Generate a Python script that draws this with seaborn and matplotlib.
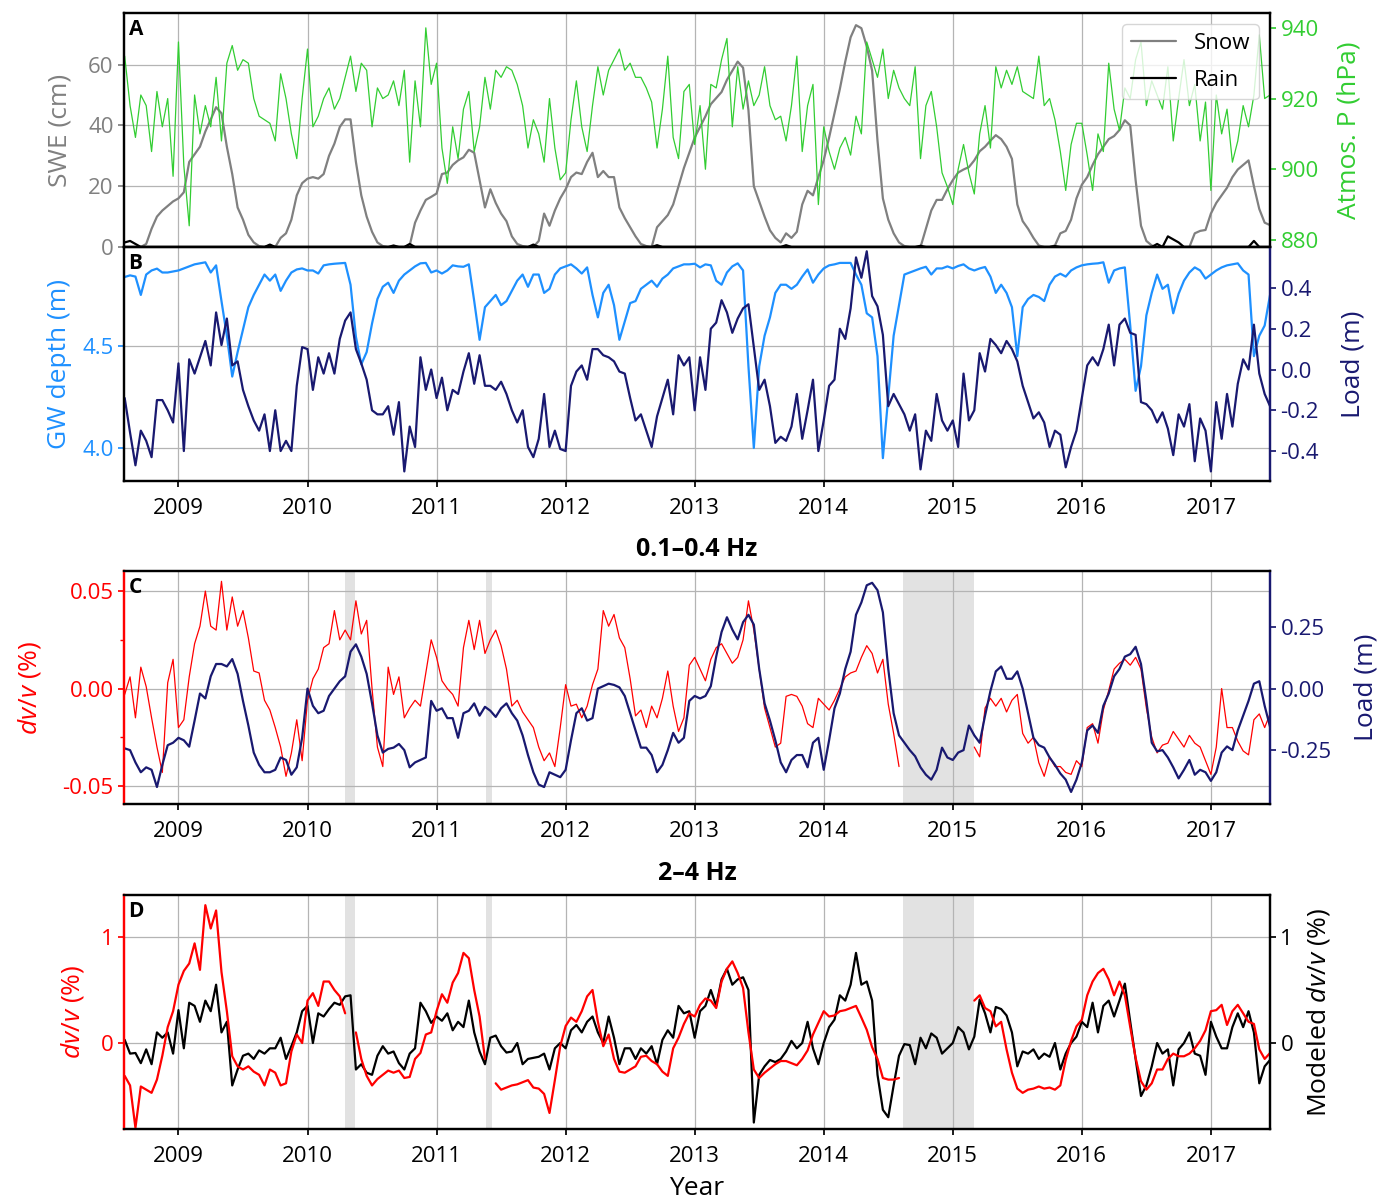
import numpy as np
import pandas as pd
import matplotlib
matplotlib.use("Agg")
import matplotlib.pyplot as plt
from matplotlib.lines import Line2D
from matplotlib.ticker import MultipleLocator, FormatStrFormatter
import seaborn as sns

nan = np.nan

# --- data: semi-monthly samples, 1 Aug 2008 .. mid-June 2017 ---
t = 2008 + 7 / 12 + np.arange(214) / 24

swe = [0, 0, 0, 0, 1, 6, 10, 12, 13.5, 15,
       16, 18, 28, 30.5, 33, 38, 42, 46, 44, 33, 24, 13, 9, 4, 1.5, 0.3, 0, 0.5, 0, 3, 4.5, 9, 17, 21,
       22.5, 23, 22.5, 24, 30, 34, 39.5, 42, 42, 28, 17, 10, 5, 1.5, 0.3, 0, 0, 0, 0, 0.5, 8, 12, 15.5, 16.5,
       17.6, 24, 24.5, 27, 28.5, 29.5, 32, 31, 22, 13, 19, 14.5, 11, 8.5, 3.5, 1, 0.3, 0, 0, 2, 11, 7, 12, 16,
       19, 23, 24.5, 24, 28, 31, 23, 25, 23, 23, 13, 9.5, 6.5, 3.5, 1, 0.3, 0, 6.5, 8.5, 10.5, 14, 20, 26, 31,
       36, 39.5, 43, 47, 49, 51, 55, 58, 61, 59, 45, 20, 15, 10, 5.5, 3, 1.5, 4.5, 3, 5, 14, 18.5, 17, 23,
       28.6, 36, 44, 52, 61, 69, 73, 72, 66, 58, 35, 16, 9, 4.5, 1.5, 0.3, 0, 0, 0, 6, 12, 15.5, 15.5, 19,
       22, 24.5, 25.5, 26.3, 28.5, 31.5, 33, 35, 36.8, 35.5, 33, 29, 14, 8.5, 6, 3, 0.5, 0, 0, 0.5, 4.5, 5.3, 9, 16,
       20.5, 23, 27, 30.5, 33, 35.5, 36.5, 38.5, 41.7, 40, 22, 7, 2, 0.5, 0, 0, 0, 0, 0, 0, 0, 4.5, 5.3, 5.6,
       11, 14.5, 17, 19.5, 23, 25.5, 27, 28.5, 20, 12.5, 8, 7.2]

rain = [1.5, 2, 1, 0, 0, 0, 0, 0, 0, 0,
        0, 0, 0, 0, 0, 0, 0, 0, 0, 0, 0, 0, 0, 0, 0, 0, 0, 0.8, 0, 0, 0, 0, 0, 0,
        0, 0, 0, 0, 0, 0, 0, 0, 0, 0, 0, 0, 0, 0, 0, 0, 0.5, 0, 0, 1.0, 0, 0, 0, 0,
        0, 0, 0, 0, 0, 0, 0, 0, 0, 0, 0, 0, 0, 0, 0, 0, 0, 0, 0.8, 0, 0, 0, 0, 0,
        0, 0, 0, 0, 0, 0, 0, 0, 0, 0, 0, 0, 0, 0, 0, 0, 0, 0.6, 0, 0, 0, 0, 0, 0,
        0, 0, 0, 0, 0, 0, 0, 0, 0, 0, 0, 0, 0, 0, 0, 0, 0, 0.6, 0, 0, 0, 0, 0, 0,
        0, 0, 0, 0, 0, 0, 0, 0, 0, 0, 0, 0, 0, 0, 0, 0, 0, 0, 0.4, 0, 0, 0, 0, 0,
        0, 0, 0, 0, 0, 0, 0, 0, 0, 0, 0, 0, 0, 0, 0, 0, 0, 0, 0, 0.3, 0, 0, 0, 0,
        0, 0, 0, 0, 0, 0, 0, 0, 0, 0, 0, 0, 0, 0, 1.0, 0, 3.5, 2.5, 1.5, 0, 0, 0, 0, 0,
        0, 0, 0, 0, 0, 0, 0, 0, 2.0, 0, 0, 0]

patm = [932, 918, 909, 921, 918, 905, 922, 912, 920, 898,
        936, 901, 884, 921, 910, 918, 912, 926, 908, 930, 935, 928, 931, 930, 920, 915, 914, 913, 908, 927, 920, 910, 903, 920,
        934, 912, 915, 920, 923, 917, 920, 926, 932, 922, 930, 928, 912, 923, 920, 921, 925, 918, 928, 902, 925, 912, 940, 924,
        930, 906, 896, 912, 903, 917, 922, 905, 912, 926, 917, 928, 926, 929, 928, 924, 918, 906, 914, 910, 902, 920, 906, 897,
        899, 914, 925, 912, 905, 918, 929, 921, 928, 931, 934, 928, 930, 926, 926, 923, 919, 906, 917, 932, 909, 903, 922, 924,
        907, 918, 900, 924, 923, 931, 937, 912, 929, 917, 925, 918, 921, 929, 918, 914, 915, 908, 918, 932, 905, 918, 924, 890,
        912, 905, 900, 906, 909, 904, 915, 910, 936, 931, 926, 934, 920, 928, 923, 920, 918, 929, 903, 918, 922, 912, 899, 895,
        890, 900, 907, 899, 893, 910, 918, 906, 929, 923, 928, 924, 929, 922, 921, 920, 932, 918, 920, 914, 905, 894, 907, 913,
        913, 904, 894, 910, 905, 930, 917, 911, 923, 920, 931, 936, 918, 925, 921, 917, 929, 908, 920, 931, 918, 924, 908, 919,
        894, 921, 910, 917, 902, 908, 918, 912, 921, 938, 920, 921]

gw_depth = [4.838, 4.846, 4.84, 4.75, 4.85, 4.87, 4.879, 4.86, 4.86, 4.865,
            4.87, 4.88, 4.89, 4.90, 4.905, 4.91, 4.86, 4.895, 4.72, 4.55, 4.35, 4.47, 4.58, 4.69, 4.75, 4.80, 4.85, 4.82, 4.85, 4.77, 4.82, 4.86, 4.875, 4.88,
            4.87, 4.87, 4.855, 4.895, 4.90, 4.903, 4.905, 4.907, 4.80, 4.545, 4.41, 4.47, 4.61, 4.73, 4.79, 4.81, 4.76, 4.82, 4.85, 4.87, 4.89, 4.905, 4.907, 4.86,
            4.87, 4.855, 4.87, 4.895, 4.89, 4.888, 4.90, 4.72, 4.53, 4.69, 4.72, 4.75, 4.70, 4.72, 4.77, 4.82, 4.85, 4.79, 4.85, 4.85, 4.76, 4.78, 4.85, 4.88,
            4.89, 4.90, 4.88, 4.855, 4.885, 4.75, 4.64, 4.76, 4.80, 4.70, 4.53, 4.62, 4.71, 4.72, 4.78, 4.80, 4.82, 4.79, 4.83, 4.85, 4.88, 4.89, 4.90, 4.90,
            4.903, 4.885, 4.90, 4.895, 4.82, 4.80, 4.86, 4.89, 4.905, 4.87, 4.40, 4.00, 4.40, 4.55, 4.64, 4.76, 4.80, 4.80, 4.78, 4.80, 4.84, 4.875, 4.81, 4.85,
            4.88, 4.895, 4.90, 4.907, 4.907, 4.907, 4.85, 4.80, 4.66, 4.64, 4.45, 3.95, 4.25, 4.55, 4.70, 4.85, 4.86, 4.87, 4.88, 4.888, 4.85, 4.88, 4.88, 4.89,
            4.88, 4.892, 4.90, 4.88, 4.87, 4.88, 4.887, 4.84, 4.76, 4.80, 4.76, 4.69, 4.45, 4.69, 4.73, 4.75, 4.74, 4.72, 4.80, 4.84, 4.854, 4.84, 4.87, 4.885,
            4.895, 4.90, 4.903, 4.905, 4.91, 4.81, 4.87, 4.88, 4.885, 4.60, 4.28, 4.40, 4.65, 4.76, 4.85, 4.78, 4.80, 4.66, 4.756, 4.82, 4.86, 4.885, 4.87, 4.83,
            4.85, 4.87, 4.885, 4.895, 4.90, 4.905, 4.87, 4.85, 4.45, 4.55, 4.60, 4.75]

load_b = [-0.14, -0.31, -0.47, -0.30, -0.35, -0.43, -0.15, -0.15, -0.20, -0.26,
          0.03, -0.40, 0.05, -0.02, 0.06, 0.14, 0.02, 0.28, 0.12, 0.25, 0.02, 0.04, -0.10, -0.18, -0.25, -0.30, -0.22, -0.40, -0.20, -0.40, -0.35, -0.40, -0.08, 0.11,
          0.10, -0.10, 0.06, -0.02, 0.08, -0.02, 0.15, 0.24, 0.28, 0.10, 0.03, -0.05, -0.20, -0.22, -0.22, -0.18, -0.32, -0.16, -0.50, -0.28, -0.38, 0.06, -0.10, 0.00,
          -0.14, -0.04, -0.20, -0.10, -0.12, -0.01, 0.08, -0.07, 0.07, -0.08, -0.08, -0.10, -0.06, -0.12, -0.20, -0.26, -0.20, -0.38, -0.43, -0.34, -0.12, -0.38, -0.30, -0.39,
          -0.40, -0.08, -0.01, 0.02, -0.05, 0.10, 0.10, 0.07, 0.06, 0.04, -0.01, -0.02, -0.14, -0.25, -0.22, -0.30, -0.38, -0.23, -0.14, -0.05, -0.22, 0.07, 0.02, 0.06,
          -0.20, 0.06, -0.10, 0.20, 0.23, 0.34, 0.28, 0.18, 0.25, 0.30, 0.32, 0.11, -0.10, -0.05, -0.18, -0.36, -0.33, -0.35, -0.28, -0.12, -0.34, -0.20, -0.05, -0.40,
          -0.25, -0.08, -0.05, 0.20, 0.15, 0.30, 0.55, 0.45, 0.58, 0.36, 0.31, 0.17, -0.18, -0.12, -0.17, -0.22, -0.30, -0.22, -0.49, -0.30, -0.35, -0.12, -0.25, -0.30,
          -0.25, -0.38, -0.02, -0.25, -0.20, 0.08, -0.01, 0.15, 0.12, 0.08, 0.14, 0.10, 0.04, -0.08, -0.16, -0.24, -0.21, -0.26, -0.38, -0.30, -0.32, -0.48, -0.38, -0.30,
          -0.14, 0.02, 0.06, 0.02, 0.10, 0.22, 0.02, 0.22, 0.25, 0.18, 0.17, -0.16, -0.17, -0.20, -0.26, -0.21, -0.29, -0.42, -0.22, -0.28, -0.17, -0.45, -0.24, -0.30,
          -0.50, -0.16, -0.34, -0.12, -0.28, -0.07, 0.05, 0.00, 0.22, -0.02, -0.12, -0.18]

dvv_low = [-0.003, 0.006, -0.015, 0.011, 0.001, -0.015, -0.030, -0.043, 0.003, 0.015,
           -0.020, -0.016, 0.006, 0.023, 0.032, 0.050, 0.032, 0.030, 0.055, 0.030, 0.047, 0.032, 0.040, 0.026, 0.009, 0.008, -0.006, -0.011, -0.020, -0.030, -0.045, -0.033, -0.016, -0.037,
           -0.006, 0.005, 0.010, 0.021, 0.023, 0.040, 0.025, 0.030, 0.025, 0.045, 0.028, 0.035, 0.000, -0.030, -0.040, 0.011, -0.003, 0.006, -0.015, -0.010, -0.006, -0.009, 0.008, 0.025,
           0.016, 0.004, 0.000, -0.003, -0.009, 0.021, 0.035, 0.020, 0.035, 0.018, 0.025, 0.030, 0.022, 0.010, -0.009, -0.006, -0.012, -0.016, -0.020, -0.030, -0.037, -0.033, -0.040, -0.020,
           0.002, -0.009, -0.008, -0.015, -0.009, 0.002, 0.010, 0.040, 0.032, 0.038, 0.026, 0.021, 0.005, -0.014, -0.011, -0.020, -0.009, -0.015, -0.005, 0.009, -0.009, -0.022, -0.015, 0.012,
           0.016, 0.010, 0.004, 0.015, 0.021, 0.023, 0.018, 0.013, 0.016, 0.025, 0.045, 0.030, 0.010, -0.010, -0.020, -0.030, -0.028, -0.004, -0.003, -0.004, -0.009, -0.018, -0.020, -0.005,
           -0.008, -0.011, -0.006, 0.000, 0.006, 0.008, 0.009, 0.016, 0.022, 0.018, 0.008, 0.015, -0.008, -0.023, -0.040, nan, nan, nan, nan, nan, nan, nan, nan, nan,
           nan, nan, nan, nan, -0.030, -0.035, -0.010, -0.005, -0.009, -0.005, -0.012, -0.006, -0.003, -0.023, -0.028, -0.025, -0.038, -0.045, -0.035, -0.040, -0.040, -0.043, -0.044, -0.037,
           -0.040, -0.020, -0.018, -0.028, -0.011, -0.001, 0.010, 0.013, 0.015, 0.012, 0.016, 0.010, -0.010, -0.025, -0.033, -0.029, -0.028, -0.022, -0.026, -0.030, -0.024, -0.028, -0.030, -0.037,
           -0.044, -0.030, 0.000, -0.020, -0.020, -0.027, -0.032, -0.034, -0.016, -0.013, -0.020, -0.013]

load_c = [-0.243, -0.25, -0.30, -0.34, -0.32, -0.33, -0.40, -0.31, -0.23, -0.22,
          -0.20, -0.21, -0.236, -0.13, -0.02, -0.04, 0.05, 0.10, 0.10, 0.09, 0.12, 0.06, -0.05, -0.15, -0.26, -0.31, -0.34, -0.34, -0.33, -0.28, -0.29, -0.35, -0.32, -0.20,
          0.00, -0.07, -0.10, -0.09, -0.03, 0.00, 0.03, 0.05, 0.15, 0.18, 0.13, 0.06, -0.06, -0.19, -0.26, -0.245, -0.24, -0.225, -0.25, -0.32, -0.30, -0.29, -0.28, -0.05,
          -0.09, -0.08, -0.12, -0.12, -0.20, -0.10, -0.09, -0.06, -0.11, -0.074, -0.09, -0.115, -0.08, -0.06, -0.10, -0.13, -0.19, -0.27, -0.34, -0.39, -0.40, -0.34, -0.35, -0.36,
          -0.33, -0.21, -0.10, -0.08, -0.13, -0.12, 0.00, 0.01, 0.02, 0.015, 0.005, -0.03, -0.10, -0.17, -0.24, -0.24, -0.27, -0.34, -0.31, -0.25, -0.18, -0.22, -0.20, -0.05,
          -0.03, -0.04, -0.03, 0.01, 0.13, 0.23, 0.29, 0.24, 0.20, 0.27, 0.30, 0.26, 0.08, -0.06, -0.13, -0.21, -0.30, -0.34, -0.29, -0.27, -0.27, -0.32, -0.22, -0.20,
          -0.33, -0.21, -0.08, -0.02, 0.08, 0.15, 0.30, 0.35, 0.42, 0.43, 0.40, 0.31, 0.08, -0.10, -0.19, -0.22, -0.25, -0.275, -0.32, -0.35, -0.37, -0.33, -0.24, -0.28,
          -0.29, -0.26, -0.25, -0.15, -0.19, -0.22, -0.11, -0.01, 0.07, 0.09, 0.04, 0.04, 0.07, 0.00, -0.10, -0.20, -0.23, -0.24, -0.28, -0.31, -0.345, -0.37, -0.42, -0.37,
          -0.30, -0.17, -0.15, -0.18, -0.07, -0.02, 0.05, 0.08, 0.13, 0.14, 0.17, 0.10, -0.05, -0.22, -0.255, -0.25, -0.28, -0.32, -0.365, -0.33, -0.29, -0.35, -0.33, -0.34,
          -0.375, -0.34, -0.26, -0.235, -0.25, -0.17, -0.11, -0.05, 0.02, 0.03, -0.07, -0.155]

dvv_high = [-0.31, -0.40, -0.80, -0.41, -0.44, -0.47, -0.345, -0.12, 0.15, 0.30,
            0.55, 0.68, 0.75, 0.94, 0.69, 1.30, 1.08, 1.25, 0.67, 0.30, -0.125, -0.22, -0.25, -0.22, -0.27, -0.30, -0.40, -0.25, -0.28, -0.40, -0.38, -0.08, 0.08, 0.00,
            0.40, 0.47, 0.35, 0.58, 0.58, 0.50, 0.44, 0.28, nan, 0.10, -0.15, -0.31, -0.40, -0.34, -0.30, -0.26, -0.28, -0.26, -0.33, -0.32, -0.15, -0.094, 0.08, 0.10,
            0.30, 0.46, 0.38, 0.57, 0.66, 0.85, 0.80, 0.50, 0.25, -0.15, nan, -0.38, -0.44, -0.42, -0.40, -0.39, -0.37, -0.35, -0.42, -0.43, -0.48, -0.66, -0.35, -0.03,
            0.16, 0.24, 0.20, 0.30, 0.44, 0.50, 0.20, -0.03, 0.08, -0.15, -0.27, -0.28, -0.25, -0.22, -0.13, -0.12, -0.17, -0.20, -0.27, -0.31, -0.05, 0.05, 0.18, 0.28,
            0.25, 0.36, 0.42, 0.40, 0.33, 0.58, 0.70, 0.77, 0.66, 0.52, 0.10, -0.25, -0.33, -0.28, -0.24, -0.20, -0.17, -0.17, -0.19, -0.21, -0.15, -0.07, 0.08, 0.19,
            0.30, 0.25, 0.26, 0.30, 0.31, 0.33, 0.35, 0.24, 0.125, -0.04, -0.15, -0.33, -0.345, -0.345, -0.33, nan, nan, nan, nan, nan, nan, nan, nan, nan,
            nan, nan, nan, nan, 0.40, 0.45, 0.33, 0.30, 0.157, 0.20, -0.06, -0.28, -0.43, -0.47, -0.44, -0.43, -0.41, -0.43, -0.42, -0.44, -0.40, -0.16, 0.02, 0.157,
            0.22, 0.45, 0.58, 0.66, 0.70, 0.60, 0.45, 0.58, 0.45, 0.15, -0.14, -0.36, -0.44, -0.38, -0.25, -0.25, -0.15, -0.10, -0.125, -0.125, -0.10, -0.05, 0.02, 0.12,
            0.30, 0.31, 0.36, 0.17, 0.30, 0.36, 0.28, 0.20, 0.18, -0.06, -0.15, -0.094]

dvv_model = [0.03, -0.10, -0.094, -0.19, -0.06, -0.20, 0.10, 0.05, 0.10, -0.10,
             0.31, -0.05, 0.38, 0.35, 0.20, 0.40, 0.30, 0.55, 0.10, 0.20, -0.40, -0.25, -0.12, -0.10, -0.15, -0.07, -0.10, -0.05, -0.05, 0.05, -0.15, -0.03, 0.10, 0.30,
             0.35, 0.00, 0.28, 0.25, 0.32, 0.38, 0.36, 0.44, 0.45, -0.25, -0.20, -0.28, -0.30, -0.12, -0.03, -0.10, -0.08, -0.19, -0.25, -0.10, -0.05, 0.38, 0.30, 0.19,
             0.25, 0.21, 0.28, 0.12, 0.20, 0.15, 0.40, 0.10, -0.08, -0.20, 0.05, 0.07, -0.03, -0.09, -0.08, 0.00, -0.20, -0.15, -0.14, -0.13, -0.10, -0.25, -0.05, 0.00,
             -0.05, 0.12, 0.17, 0.10, 0.20, 0.25, 0.10, 0.00, 0.25, 0.05, -0.20, -0.05, -0.05, -0.15, -0.05, -0.10, -0.03, -0.20, 0.03, 0.12, 0.05, 0.35, 0.28, 0.30,
             0.05, 0.30, 0.35, 0.50, 0.35, 0.60, 0.70, 0.55, 0.60, 0.62, 0.50, -0.75, -0.30, -0.22, -0.16, -0.18, -0.15, -0.08, 0.02, -0.05, 0.00, 0.20, -0.05, -0.20,
             0.00, 0.15, 0.22, 0.45, 0.40, 0.55, 0.85, 0.55, 0.58, 0.40, -0.30, -0.63, -0.70, -0.40, -0.12, -0.01, -0.02, -0.20, 0.05, -0.05, 0.09, 0.05, -0.10, -0.05,
             0.00, 0.15, 0.10, -0.06, 0.06, 0.41, 0.28, 0.10, 0.34, 0.32, 0.26, 0.10, -0.22, -0.08, -0.10, -0.06, -0.15, -0.10, -0.13, 0.00, -0.25, -0.10, 0.00, 0.06,
             0.20, 0.15, 0.38, 0.10, 0.35, 0.40, 0.25, 0.40, 0.56, 0.20, -0.15, -0.50, -0.40, -0.22, 0.00, -0.10, -0.06, -0.40, -0.06, 0.00, 0.10, -0.10, -0.12, -0.30,
             0.20, 0.06, -0.05, -0.05, 0.15, 0.28, 0.15, 0.30, 0.10, -0.38, -0.22, -0.16]

# periods without usable dv/v (shaded)
gap_periods = [(2010.29, 2010.37), (2011.38, 2011.43), (2014.615, 2015.165)]
years = list(range(2009, 2018))

for name, arr in [("swe", swe), ("rain", rain), ("patm", patm), ("gw", gw_depth), ("load_b", load_b),
                  ("dvv_low", dvv_low), ("load_c", load_c), ("dvv_high", dvv_high), ("model", dvv_model)]:
    assert len(arr) == len(t), (name, len(arr))

# --- style ---
sns.set_theme(style="whitegrid", rc={
    "axes.edgecolor": "black", "axes.linewidth": 1.6,
    "axes.labelcolor": "black", "text.color": "black",
    "xtick.bottom": True, "ytick.left": True,
    "xtick.color": "black", "ytick.color": "black",
    "xtick.major.size": 4, "ytick.major.size": 4,
    "ytick.minor.size": 3, "xtick.major.pad": 8.5,
    "grid.color": "#b4b4b4", "grid.linewidth": 0.9,
    "xtick.labelsize": 16, "ytick.labelsize": 16,
    "axes.labelsize": 19, "legend.fontsize": 16,
})
plt.rcParams["font.family"] = ["Open Sans", "DejaVu Sans"]
plt.rcParams["mathtext.fontset"] = "custom"
plt.rcParams["mathtext.rm"] = "Open Sans"
plt.rcParams["mathtext.it"] = "Open Sans:italic"


def draw(ax, y, color, lw):
    d = pd.DataFrame({"t": t, "v": np.asarray(y, float)})
    d["seg"] = d["v"].isna().cumsum()
    d = d.dropna()
    sns.lineplot(data=d, x="t", y="v", units="seg", estimator=None,
                 color=color, linewidth=lw, ax=ax)


W, H = 1378, 1200
fig = plt.figure(figsize=(W / 100, H / 100), dpi=100)


def box(top, bottom):
    return [124 / W, 1 - bottom / H, (1270 - 124) / W, (bottom - top) / H]


axA = fig.add_axes(box(13, 247))
axB = fig.add_axes(box(247, 481))
axC = fig.add_axes(box(571, 804))
axD = fig.add_axes(box(895, 1129))
axA2, axB2, axC2, axD2 = axA.twinx(), axB.twinx(), axC.twinx(), axD.twinx()

# Panel A
draw(axA, swe, "gray", 1.6)
draw(axA, rain, "black", 1.6)
draw(axA2, patm, "limegreen", 0.9)
axA.set_ylim(0, 77)
axA.set_yticks([0, 20, 40, 60])
axA2.set_ylim(878, 944.2)
axA2.set_yticks([880, 900, 920, 940])
axA.set_ylabel("SWE (cm)", color="gray", labelpad=11)
axA2.set_ylabel("Atmos. P (hPa)", color="limegreen", labelpad=12.5)
axA.tick_params(axis="y", colors="gray")
axA2.tick_params(axis="y", colors="limegreen")
axA.tick_params(axis="x", labelbottom=False)
axA2.legend(handles=[Line2D([], [], color="gray", lw=1.6), Line2D([], [], color="black", lw=1.6)],
            labels=["Snow", "Rain"], loc="upper right", framealpha=0.8, edgecolor="0.8",
            labelspacing=0.7)

# Panel B
draw(axB, gw_depth, "dodgerblue", 1.6)
draw(axB2, load_b, "midnightblue", 1.6)
axB.set_ylim(3.838, 4.985)
axB.set_yticks([4.0, 4.5])
axB.yaxis.set_major_formatter(FormatStrFormatter("%.1f"))
axB2.set_ylim(-0.547, 0.601)
axB2.set_yticks([-0.4, -0.2, 0.0, 0.2, 0.4])
axB2.yaxis.set_major_formatter(FormatStrFormatter("%.1f"))
axB.set_ylabel("GW depth (m)", color="dodgerblue", labelpad=7)
axB2.set_ylabel("Load (m)", color="midnightblue", labelpad=15.5)
axB.tick_params(axis="y", colors="dodgerblue")
axB2.tick_params(axis="y", colors="midnightblue")
for a in (axB, axB2):
    a.spines["right"].set_color("midnightblue")

# Panel C
for lo, hi in gap_periods:
    axC.axvspan(lo, hi, color="#e2e2e2", lw=0, zorder=0.3)
draw(axC, dvv_low, "red", 0.9)
draw(axC2, load_c, "midnightblue", 1.6)
axC.set_ylim(-0.0592, 0.0603)
axC.set_yticks([-0.05, 0.0, 0.05])
axC.yaxis.set_minor_locator(MultipleLocator(0.025))
axC.yaxis.set_major_formatter(FormatStrFormatter("%.2f"))
axC2.set_ylim(-0.469, 0.478)
axC2.set_yticks([-0.25, 0.0, 0.25])
axC2.yaxis.set_major_formatter(FormatStrFormatter("%.2f"))
axC.set_ylabel(r"$dv/v$ (%)", color="red", labelpad=14)
axC2.set_ylabel("Load (m)", color="midnightblue", labelpad=16)
axC.tick_params(axis="y", which="both", colors="red")
axC2.tick_params(axis="y", colors="midnightblue")
axC.set_title("0.1–0.4 Hz", fontsize=18, fontweight="bold", pad=11)
for a in (axC, axC2):
    a.spines["left"].set_color("red")
    a.spines["right"].set_color("midnightblue")

# Panel D (observed on top of modeled)
for lo, hi in gap_periods:
    axD.axvspan(lo, hi, color="#e2e2e2", lw=0, zorder=0.3)
draw(axD, dvv_model, "black", 1.6)
draw(axD2, dvv_high, "red", 1.6)
for a in (axD, axD2):
    a.set_ylim(-0.811, 1.396)
    a.set_yticks([0, 1])
    a.spines["left"].set_color("red")
axD.set_ylabel(r"$dv/v$ (%)", color="red", labelpad=11)
axD2.set_ylabel(r"Modeled $dv/v$ (%)", color="black", labelpad=8.5)
axD.tick_params(axis="y", colors="red")
axD2.tick_params(axis="y", colors="black")
axD.set_title("2–4 Hz", fontsize=18, fontweight="bold", pad=11)
axD.set_xlabel("Year", labelpad=6)

for ax, ax2, letter in [(axA, axA2, "A"), (axB, axB2, "B"), (axC, axC2, "C"), (axD, axD2, "D")]:
    ax.set_xlim(2008.578, 2017.458)
    ax.set_xticks(years)
    ax.xaxis.set_major_formatter(FormatStrFormatter("%d"))
    ax.grid(True)
    ax2.grid(False)
    if ax is not axD:
        ax.set_xlabel("")
    ax2.text(0.004, 0.975, letter, transform=ax2.transAxes, ha="left", va="top",
             fontsize=15, fontweight="bold", color="black")

fig.savefig("out.png", dpi=100, facecolor="white")
